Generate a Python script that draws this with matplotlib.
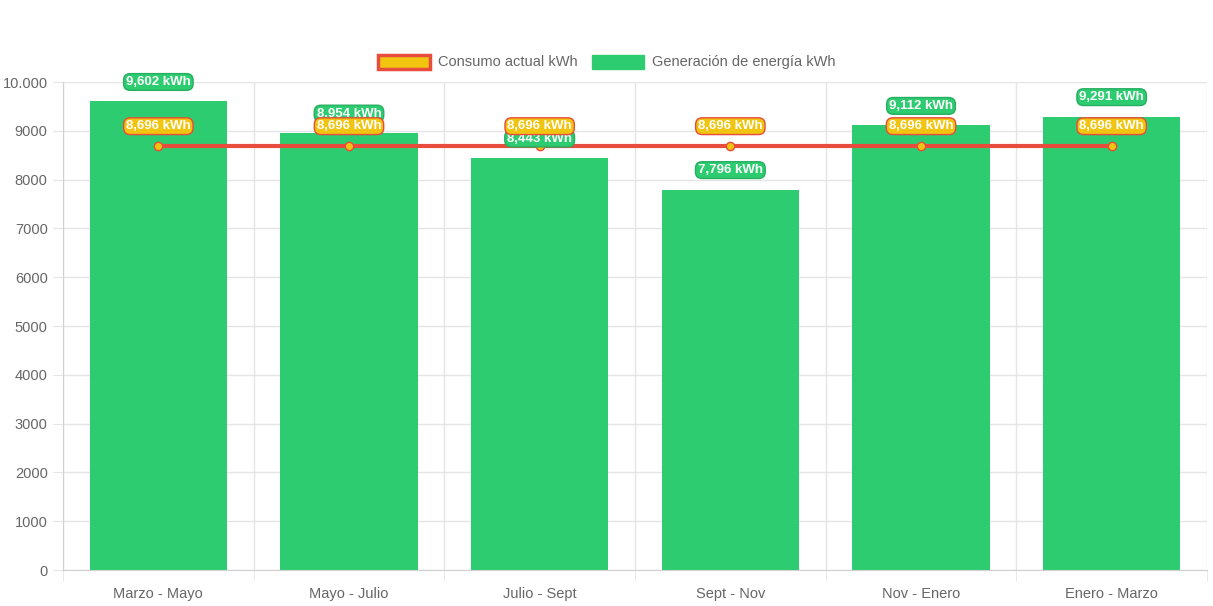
import matplotlib
matplotlib.use("Agg")
import matplotlib.pyplot as plt
from matplotlib.patches import Patch
import numpy as np

categories = ["Marzo - Mayo", "Mayo - Julio", "Julio - Sept", "Sept - Nov", "Nov - Enero", "Enero - Marzo"]
generacion = [9602, 8954, 8443, 7796, 9112, 9291]
consumo = [8696, 8696, 8696, 8696, 8696, 8696]
yticks = [0, 1000, 2000, 3000, 4000, 5000, 6000, 7000, 8000, 9000, 10000]
ytick_labels = ["0", "1000", "2000", "3000", "4000", "5000", "6000", "7000", "8000", "9000", "10.000"]

plt.rcParams['font.family'] = ['Liberation Sans', 'DejaVu Sans']
GREEN = "#2ecc71"
RED = "#e74c3c"
YELLOW = "#f1c40f"
GRID = "#e5e5e5"
TXT = "#666666"

fig = plt.figure(figsize=(12.13, 6.06), dpi=100)
ax = fig.add_axes([63/1213, 36/606, (1207-63)/1213, (570-82)/606])
x = np.arange(len(categories))
ax.bar(x, generacion, width=0.72, color=GREEN, zorder=2)
ax.plot(x, consumo, color=RED, lw=3, zorder=3, marker='o', markersize=6,
        markerfacecolor=YELLOW, markeredgecolor=RED, markeredgewidth=1)

ax.set_xlim(-0.5, len(categories) - 0.5)
ax.set_ylim(0, 10000)
ax.set_yticks(yticks)
ax.set_yticklabels(ytick_labels)
ax.set_xticks(x)
ax.set_xticklabels(categories)
ax.set_xticks(np.arange(-0.5, len(categories)), minor=True)
ax.tick_params(axis='x', which='major', length=0, pad=12, labelsize=10.5, labelcolor=TXT)
ax.tick_params(axis='x', which='minor', length=8, color=GRID)
ax.tick_params(axis='y', length=7, color=GRID, labelsize=10.5, labelcolor=TXT, pad=4)
ax.grid(axis='y', color=GRID, lw=1, zorder=0)
ax.grid(axis='x', which='minor', color=GRID, lw=1, zorder=0)
for s in ['top', 'right']:
    ax.spines[s].set_visible(False)
for s in ['left', 'bottom']:
    ax.spines[s].set_color("#d0d0d0")

for xi, v in zip(x, generacion):
    ax.annotate(f"{v:,} kWh", (xi, v), xytext=(0, 14), textcoords='offset points',
                ha='center', va='center', fontsize=9.5, fontweight='bold', color='white', zorder=5,
                bbox=dict(boxstyle='round,pad=0.18,rounding_size=0.5', fc=GREEN, ec="#27ae60", lw=1))
for xi, v in zip(x, consumo):
    ax.annotate(f"{v:,} kWh", (xi, v), xytext=(0, 14), textcoords='offset points',
                ha='center', va='center', fontsize=9.5, fontweight='bold', color='white', zorder=6,
                bbox=dict(boxstyle='round,pad=0.18,rounding_size=0.5', fc=YELLOW, ec=RED, lw=1))

handles = [Patch(facecolor=YELLOW, edgecolor=RED, linewidth=2.5, label="Consumo actual kWh"),
           Patch(facecolor=GREEN, edgecolor=GREEN, label="Generación de energía kWh")]
fig.legend(handles=handles, loc='center', bbox_to_anchor=(0.5, 1 - 62/606), ncol=2, frameon=False,
           fontsize=10.5, labelcolor=TXT, handlelength=3.6, handleheight=1.1, columnspacing=1.0, handletextpad=0.5)

fig.savefig("out.png", dpi=100)
